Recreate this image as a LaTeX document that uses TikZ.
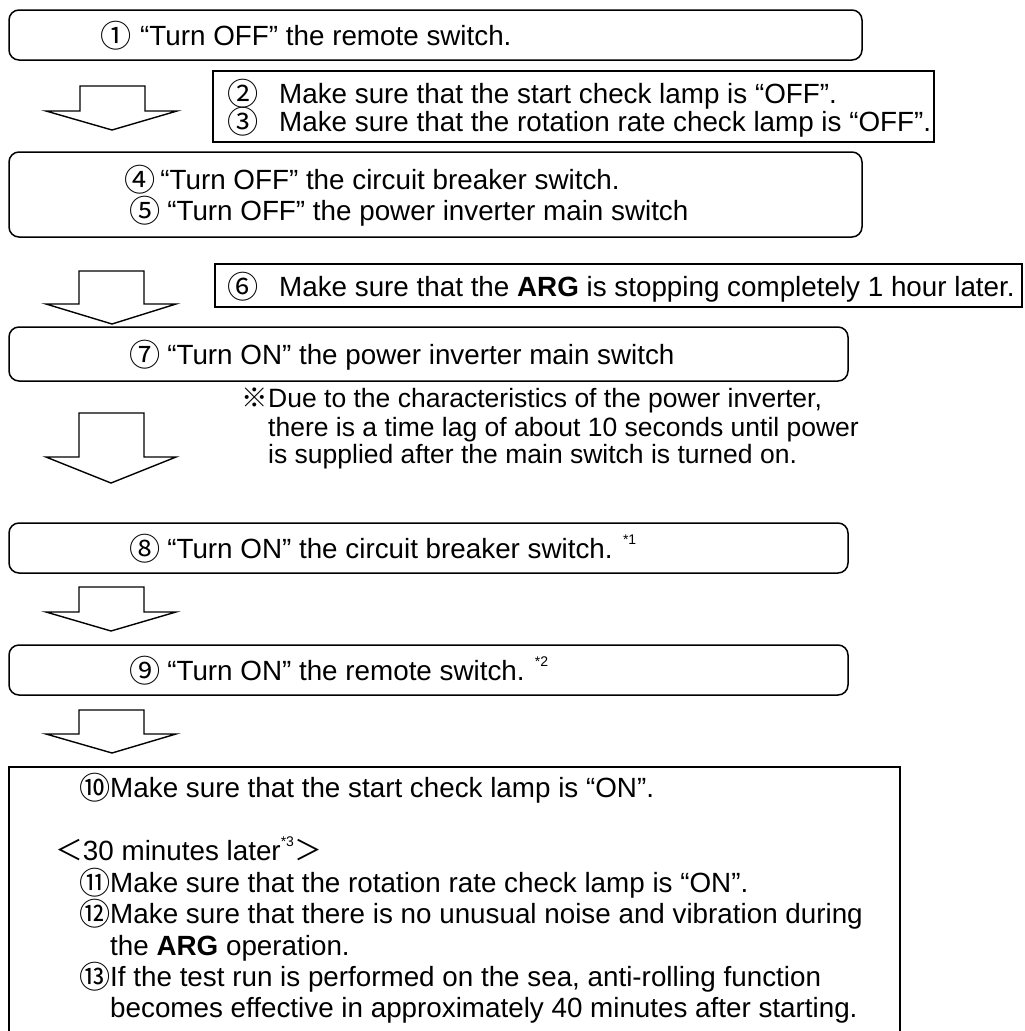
\documentclass[tikz,border=0pt]{standalone}
\usepackage{fontspec}
\setmainfont{Liberation Sans}
\newfontfamily\cjk[Scale=1.12]{Noto Sans CJK JP}
\newfontfamily\cjkn{Noto Sans CJK JP}
\newcommand\sx[1]{\raisebox{0.5em}{\fontsize{14}{14}\selectfont #1}}
\newcommand\cn[1]{\raisebox{-2.5pt}[18pt][0pt]{\cjk #1}}
\begin{document}
\begin{tikzpicture}[x=1pt,y=-1pt,
  rbox/.style={draw, line width=1.5pt, rounded corners=10pt, inner sep=0pt},
  sbox/.style={draw, line width=1.4pt, inner sep=0pt},
  txt/.style={anchor=base west, inner sep=0pt, font=\fontsize{27.8}{31}\selectfont},
  ntxt/.style={anchor=base west, inner sep=0pt, font=\fontsize{26.5}{29}\selectfont},
  barrow/.style={draw, line width=1.4pt, line join=miter}]
\useasboundingbox (0,0) rectangle (1025,1031);

% boxes
\node[rbox, minimum width=853pt, minimum height=50pt] (b1) at (435.5,35) {};
\node[sbox, minimum width=721pt, minimum height=71pt] (b2) at (573.5,106.5) {};
\node[rbox, minimum width=853pt, minimum height=85pt] (b4) at (435.5,194.5) {};
\node[sbox, minimum width=807pt, minimum height=43pt] (b6) at (618.5,285.5) {};
\node[rbox, minimum width=839pt, minimum height=54pt] (b7) at (428.5,354) {};
\node[rbox, minimum width=839pt, minimum height=50pt] (b8) at (428.5,548) {};
\node[rbox, minimum width=839pt, minimum height=50pt] (b9) at (428.5,670) {};
\draw[sbox] (9,1034) -- (9,767) -- (900,767) -- (900,1034);

% block arrows
\draw[barrow] (80,86) -- (145,86) -- (145,111) -- (177,111) -- (112,130) -- (46,111) -- (80,111) -- cycle;
\draw[barrow] (79,271) -- (144,271) -- (144,304) -- (176,304) -- (112,324) -- (46,304) -- (79,304) -- cycle;
\draw[barrow] (79,413) -- (144,413) -- (144,457) -- (176,457) -- (111,483) -- (46,457) -- (79,457) -- cycle;
\draw[barrow] (79,587) -- (144,587) -- (144,612) -- (176,612) -- (111,631) -- (46,612) -- (79,612) -- cycle;
\draw[barrow] (79,710) -- (144,710) -- (144,734) -- (176,734) -- (112,753) -- (46,734) -- (79,734) -- cycle;

% texts
\node[txt] (t1) at (100,45) {\cn{①}\hspace{0.32em}“Turn OFF” the remote switch.};
\node[txt] (t2) at (227,103) {\cn{②}\hspace{0.75em}Make sure that the start check lamp is “OFF”.};
\node[txt] (t3) at (227,131) {\cn{③}\hspace{0.75em}Make sure that the rotation rate check lamp is “OFF”.};
\node[txt] (t4) at (124,189) {\cn{④}\hspace{0.18em}“Turn OFF” the circuit breaker switch.};
\node[txt] (t5) at (129,220) {\cn{⑤}\hspace{0.25em}“Turn OFF” the power inverter main switch};
\node[txt] (t6) at (227,296) {\cn{⑥}\hspace{0.75em}Make sure that the \textbf{ARG} is stopping completely 1 hour later.};
\node[txt] (t7) at (129,364) {\cn{⑦}\hspace{0.25em}“Turn ON” the power inverter main switch};
\node[ntxt] (n1) at (241.5,407) {{\cjkn ※}Due to the characteristics of the power inverter,};
\node[ntxt] (n2) at (268,436) {there is a time lag of about 10 seconds until power};
\node[ntxt] (n3) at (268,463) {is supplied after the main switch is turned on.};
\node[txt] (t8) at (129,558) {\cn{⑧}\hspace{0.25em}“Turn ON” the circuit breaker switch. \sx{*1}};
\node[txt] (t9) at (129,680) {\cn{⑨}\hspace{0.25em}“Turn ON” the remote switch. \sx{*2}};
\node[txt] (t10) at (78.9,797) {\cn{⑩}Make sure that the start check lamp is “ON”.};
\node[txt] (t11) at (55,860) {{\cjkn ＜}30 minutes later\sx{*3}{\cjkn ＞}};
\node[txt] (t12) at (78.9,892) {\cn{⑪}Make sure that the rotation rate check lamp is “ON”.};
\node[txt] (t13) at (78.9,923) {\cn{⑫}Make sure that there is no unusual noise and vibration during};
\node[txt] (t14) at (110,955) {the \textbf{ARG} operation.};
\node[txt] (t15) at (78.9,986) {\cn{⑬}If the test run is performed on the sea, anti-rolling function};
\node[txt] (t16) at (110,1017) {becomes effective in approximately 40 minutes after starting.};
\end{tikzpicture}
\end{document}
